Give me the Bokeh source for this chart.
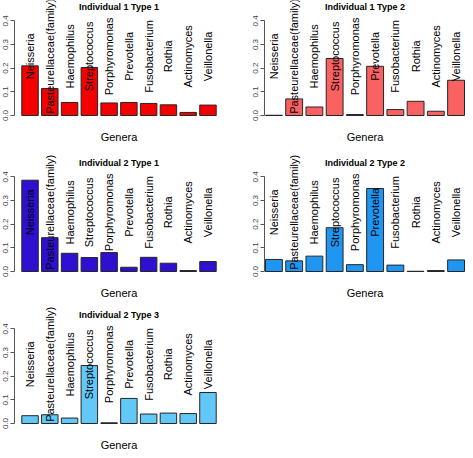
from math import pi
from bokeh.plotting import figure
from bokeh.layouts import gridplot
from bokeh.models import (ColumnDataSource, FactorRange, Range1d, LabelSet, Label,
                          FixedTicker, PrintfTickFormatter)
from bokeh.core.properties import value
from bokeh.embed import file_html
from bokeh.resources import INLINE

genera = ["Neisseria", "Pasteurellaceae(family)", "Haemophilus", "Streptococcus",
          "Porphyromonas", "Prevotella", "Fusobacterium", "Rothia",
          "Actinomyces", "Veillonella"]

titles = ["Individual 1 Type 1", "Individual 1 Type 2", "Individual 2 Type 1",
          "Individual 2 Type 2", "Individual 2 Type 3"]

ind1_type1 = [0.210, 0.114, 0.055, 0.203, 0.053, 0.055, 0.051, 0.045, 0.013, 0.044]
ind1_type2 = [0.001, 0.070, 0.036, 0.241, 0.004, 0.208, 0.025, 0.060, 0.018, 0.149]
ind2_type1 = [0.386, 0.143, 0.077, 0.059, 0.080, 0.018, 0.060, 0.035, 0.004, 0.042]
ind2_type2 = [0.051, 0.045, 0.065, 0.185, 0.029, 0.351, 0.027, 0.001, 0.004, 0.049]
ind2_type3 = [0.033, 0.037, 0.023, 0.245, 0.003, 0.106, 0.040, 0.044, 0.042, 0.131]

y_ticks = [0.0, 0.1, 0.2, 0.3, 0.4]
x_label = "Genera"

series = [ind1_type1, ind1_type2, ind2_type1, ind2_type2, ind2_type3]
colors = ["#F50000", "#FA6262", "#3010D0", "#1E96F2", "#62C8F8"]

FONT = "Liberation Sans"
LABEL_Y = 0.25        # vertical centre of the rotated genus names
TITLE_Y = 0.458       # title centre (data units)
XLAB_Y = -0.092       # "Genera" centre (data units)
BAR_W = 1.0
BAR_GAP = 0.2
N = len(genera)
GROUP_MID = (N * BAR_W + (N - 1) * BAR_GAP) / 2.0

# per-row visible y window (scale ~236 px per unit)
row_heights = [153, 151, 146]
row_y_windows = [(-0.1607, 0.4863), (-0.1395, 0.4989), (-0.1142, 0.5032)]
col_widths = [232, 233]
col_min_border_left = [0, 32]
col_min_border_right = [9, 0]
col_padding = [0.075, 0.01]


def make_panel(title, vals, color, row, col):
    p = figure(width=col_widths[col], height=row_heights[row],
               x_range=FactorRange(*genera, factor_padding=BAR_GAP,
                                   range_padding=col_padding[col]),
               y_range=Range1d(*row_y_windows[row]),
               x_axis_location=None,
               output_backend="svg", toolbar_location=None,
               min_border_left=col_min_border_left[col],
               min_border_right=col_min_border_right[col],
               min_border_top=0, min_border_bottom=0)
    p.grid.visible = False
    p.outline_line_color = None
    p.background_fill_color = "white"
    p.border_fill_color = "white"

    src = ColumnDataSource(dict(genera=genera, vals=vals,
                                ly=[LABEL_Y] * N))
    p.vbar(x="genera", top="vals", width=BAR_W, source=src,
           fill_color=color, line_color="#262626", line_width=1)

    labels = LabelSet(x="genera", y="ly", text="genera", source=src,
                      angle=pi / 2, text_align="center", text_baseline="middle",
                      text_font=value(FONT), text_font_size=value("11px"),
                      text_color="black")
    p.add_layout(labels)

    p.add_layout(Label(x=GROUP_MID, y=TITLE_Y, text=title,
                       text_align="center", text_baseline="middle",
                       text_font=FONT, text_font_size="9px",
                       text_font_style="bold", text_color="black"))
    p.add_layout(Label(x=GROUP_MID, y=XLAB_Y, text=x_label,
                       text_align="center", text_baseline="middle",
                       text_font=FONT, text_font_size="11px",
                       text_color="black"))

    ya = p.yaxis[0]
    ya.ticker = FixedTicker(ticks=y_ticks)
    ya.bounds = (0, 0.4)
    ya.formatter = PrintfTickFormatter(format="%.1f")
    ya.major_label_orientation = "vertical"
    ya.major_label_text_font = FONT
    ya.major_label_text_font_size = "8px"
    ya.major_label_standoff = 2
    ya.major_tick_out = 4
    ya.major_tick_in = 0
    ya.minor_tick_line_color = None
    ya.axis_line_color = "#555555"
    ya.major_tick_line_color = "#555555"
    return p


figs = []
for i, (t, v, c) in enumerate(zip(titles, series, colors)):
    figs.append(make_panel(t, v, c, i // 2, i % 2))

grid = gridplot([[figs[0], figs[1]], [figs[2], figs[3]], [figs[4], None]],
                toolbar_location=None)

open("out.html", "w").write(file_html(grid, INLINE))
